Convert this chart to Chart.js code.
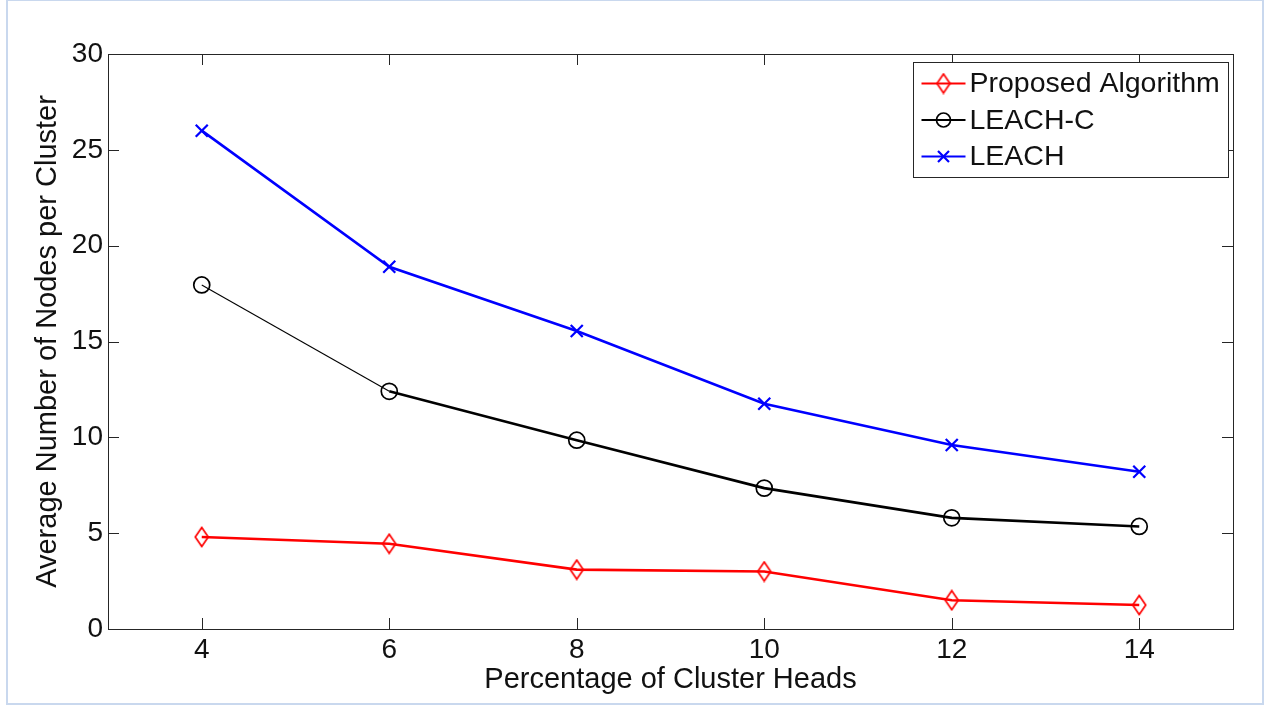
<!DOCTYPE html>
<html>
<head>
<meta charset="utf-8">
<script src="https://cdn.jsdelivr.net/npm/chart.js@4/dist/chart.umd.min.js"></script>
<style>
  html, body { margin: 0; padding: 0; background: #fff; }
  #wrap { position: relative; width: 1266px; height: 706px; }
  #frame { position: absolute; left: 6px; top: 0; width: 1254px; height: 702px;
           border: 2px solid #c9d8ee; border-top-width: 1px; pointer-events: none; }
</style>
</head>
<body>
<div id="wrap">
  <canvas id="chart" width="1266" height="706"></canvas>
  <div id="frame"></div>
</div>
<script>
// Data
const clusterHeadPct = [4, 6, 8, 10, 12, 14];
const proposedValues = [4.8, 4.45, 3.1, 3.0, 1.5, 1.25];
const leachCValues = [17.95, 12.4, 9.85, 7.35, 5.8, 5.35];
const leachValues = [26.0, 18.9, 15.55, 11.75, 9.6, 8.2];

const xTicks = [4, 6, 8, 10, 12, 14];
const yTicks = [0, 5, 10, 15, 20, 25, 30];
const seriesNames = ['Proposed Algorithm', 'LEACH-C', 'LEACH'];

const FONT = "'Liberation Sans', Arial, sans-serif";
const TEXT = '#111111';
const AXIS = '#262626';

// Tall diamond marker (matlab style), drawn once on a small canvas
function makeDiamond(color) {
    const c = document.createElement('canvas');
    c.width = 16;
    c.height = 22;
    const g = c.getContext('2d');
    g.strokeStyle = color;
    g.lineWidth = 1.7;
    g.beginPath();
    g.moveTo(8, 1.5);
    g.lineTo(14.5, 11);
    g.lineTo(8, 20.5);
    g.lineTo(1.5, 11);
    g.closePath();
    g.stroke();
    return c;
}
const diamondRed = makeDiamond('#ff0000');

function toPoints(values) {
    return clusterHeadPct.map((x, i) => ({ x: x, y: values[i] }));
}

// Inward ticks, box frame and the legend inside the plot
const matlabAxes = {
    id: 'matlabAxes',
    afterDraw(chart) {
        const ctx = chart.ctx;
        const a = chart.chartArea;
        const xs = chart.scales.x;
        const ys = chart.scales.y;
        const tl = 11;
        ctx.save();
        ctx.strokeStyle = AXIS;
        ctx.lineWidth = 1;
        ctx.strokeRect(Math.round(a.left) + 0.5, Math.round(a.top) + 0.5,
            Math.round(a.right - a.left), Math.round(a.bottom - a.top));
        ctx.beginPath();
        xTicks.forEach(v => {
            const px = Math.round(xs.getPixelForValue(v)) + 0.5;
            ctx.moveTo(px, a.bottom); ctx.lineTo(px, a.bottom - tl);
            ctx.moveTo(px, a.top); ctx.lineTo(px, a.top + tl);
        });
        yTicks.forEach(v => {
            const py = Math.round(ys.getPixelForValue(v)) + 0.5;
            ctx.moveTo(a.left, py); ctx.lineTo(a.left + tl, py);
            ctx.moveTo(a.right, py); ctx.lineTo(a.right - tl, py);
        });
        ctx.stroke();

        // legend box
        const bw = 315, bh = 115;
        const bx = Math.round(a.right - 5 - bw) + 0.5;
        const by = Math.round(a.top + 8) + 0.5;
        ctx.fillStyle = '#ffffff';
        ctx.fillRect(bx, by, bw, bh);
        ctx.strokeStyle = AXIS;
        ctx.strokeRect(bx, by, bw, bh);

        ctx.font = '28.5px ' + FONT;
        ctx.textBaseline = 'middle';
        ctx.textAlign = 'left';
        chart.data.datasets.forEach((ds, i) => {
            const cy = by + 21 + i * 36.5;
            const x0 = bx + 8, x1 = bx + 52, cx = (x0 + x1) / 2;
            ctx.strokeStyle = ds.borderColor;
            ctx.lineWidth = 2.2;
            ctx.beginPath();
            ctx.moveTo(x0, cy); ctx.lineTo(x1, cy);
            ctx.stroke();
            ctx.lineWidth = ds.pointBorderWidth;
            if (ds.pointStyle === 'circle') {
                ctx.beginPath();
                ctx.arc(cx, cy, 7, 0, Math.PI * 2);
                ctx.stroke();
            } else if (ds.pointStyle === 'crossRot') {
                ctx.beginPath();
                ctx.moveTo(cx - 5.5, cy - 5.5); ctx.lineTo(cx + 5.5, cy + 5.5);
                ctx.moveTo(cx + 5.5, cy - 5.5); ctx.lineTo(cx - 5.5, cy + 5.5);
                ctx.stroke();
            } else {
                ctx.drawImage(ds.pointStyle, cx - ds.pointStyle.width / 2, cy - ds.pointStyle.height / 2);
            }
            ctx.fillStyle = TEXT;
            ctx.fillText(ds.label, bx + 56, cy + 1);
        });
        ctx.restore();
    }
};

new Chart(document.getElementById('chart'), {
    type: 'line',
    data: {
        datasets: [
            {
                label: seriesNames[0],
                data: toPoints(proposedValues),
                borderColor: '#ff0000',
                borderWidth: 2.6,
                pointStyle: diamondRed,
                pointBorderWidth: 1.7,
                pointBorderColor: '#ff0000',
                pointBackgroundColor: 'rgba(0,0,0,0)',
                tension: 0
            },
            {
                label: seriesNames[1],
                data: toPoints(leachCValues),
                borderColor: '#000000',
                borderWidth: 2.6,
                segment: { borderWidth: c => c.p0DataIndex === 0 ? 1.1 : 2.6 },
                pointStyle: 'circle',
                pointRadius: 8,
                pointBorderWidth: 1.7,
                pointBorderColor: '#000000',
                pointBackgroundColor: 'rgba(0,0,0,0)',
                tension: 0
            },
            {
                label: seriesNames[2],
                data: toPoints(leachValues),
                borderColor: '#0000ff',
                borderWidth: 2.6,
                pointStyle: 'crossRot',
                pointRadius: 8.5,
                pointBorderWidth: 2.2,
                pointBorderColor: '#0000ff',
                pointBackgroundColor: 'rgba(0,0,0,0)',
                tension: 0
            }
        ]
    },
    options: {
        responsive: false,
        animation: false,
        events: [],
        layout: { padding: { left: 0, top: 54, right: 33, bottom: 0 } },
        plugins: {
            legend: { display: false },
            tooltip: { enabled: false }
        },
        scales: {
            x: {
                type: 'linear',
                min: 3,
                max: 15,
                afterBuildTicks: s => { s.ticks = xTicks.map(v => ({ value: v })); },
                afterFit: s => { s.height = 77; },
                grid: { display: false, drawTicks: false },
                border: { display: false },
                ticks: { color: TEXT, font: { family: FONT, size: 28 }, padding: 4, maxRotation: 0 },
                title: {
                    display: true,
                    text: 'Percentage of Cluster Heads',
                    color: TEXT,
                    font: { family: FONT, size: 29 },
                    padding: { top: 0, bottom: 9 }
                }
            },
            y: {
                min: 0,
                max: 30,
                afterBuildTicks: s => { s.ticks = yTicks.map(v => ({ value: v })); },
                afterFit: s => { s.width = 108; },
                grid: { display: false, drawTicks: false },
                border: { display: false },
                ticks: { color: TEXT, font: { family: FONT, size: 28 }, padding: 5 },
                title: {
                    display: true,
                    text: 'Average Number of Nodes per Cluster',
                    color: TEXT,
                    font: { family: FONT, size: 29 },
                    padding: { top: 31, bottom: 0 }
                }
            }
        }
    },
    plugins: [matlabAxes]
});
</script>
</body>
</html>
